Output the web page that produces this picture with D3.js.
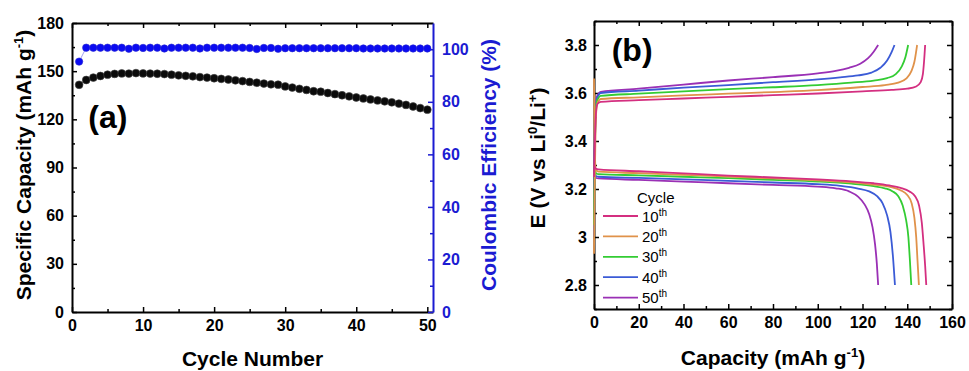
<!DOCTYPE html>
<html>
<head>
<meta charset="utf-8">
<script src="https://cdn.jsdelivr.net/npm/d3@7"></script>
<style>
  body { margin: 0; background: #fff; }
  svg { font-family: Arial, "Liberation Sans", sans-serif; }
  .tick text { font-size: 16px; font-weight: bold; }
</style>
</head>
<body>
<div id="fig"></div>
<script>
// panel (a): cycling data
var cycles = d3.range(1, 51);
var capacity = [141.5, 144.5, 146, 147, 147.8, 148.3, 148.6, 148.5, 148.8, 148.6,
                148.5, 148.4, 148.2, 147.8, 147.4, 147.1, 146.8, 146.3, 146, 145.6,
                145.2, 144.8, 144.3, 143.8, 143.3, 142.8, 142.3, 141.8, 141.6, 140.5,
                139.8, 139, 138.3, 137.5, 137.2, 136.4, 135.7, 135, 134.3, 133.6,
                133, 132.4, 131.8, 131.2, 130.6, 129.8, 129, 128, 127, 126];
var efficiency = [95.3, 100.6, 100.6, 100.6, 100.6, 100.6, 100.6, 100.2, 100.6, 100.5,
                  100.6, 100.6, 100.3, 100.6, 100.6, 100.6, 100.6, 100.3, 100.6, 100.6,
                  100.6, 100.6, 100.6, 100.6, 100.5, 100.1, 100.5, 100.5, 100.2, 100.4,
                  100.4, 100.4, 100.4, 100.4, 100.4, 100.4, 100.4, 100.4, 100.4, 100.4,
                  100.3, 100.3, 100.3, 100.3, 100.3, 100.3, 100.3, 100.3, 100.3, 100.3];

// panel (b): charge / discharge profiles [capacity, voltage]
var charge10 = [[0,3.25],[0.4,3.40],[0.9,3.52],[1.6,3.555],[3,3.563],[20,3.570],[40,3.577],[60,3.584],[80,3.591],[100,3.598],[120,3.607],[133,3.613],[140,3.618],[144,3.627],[146,3.645],[147,3.68],[147.5,3.73],[148,3.8]];
var charge20 = [[0,2.93],[0.3,3.2],[0.7,3.45],[1.3,3.55],[3,3.575],[20,3.582],[40,3.59],[60,3.597],[80,3.604],[100,3.612],[120,3.625],[130,3.633],[136,3.643],[139.5,3.66],[141.8,3.69],[143.2,3.73],[144.4,3.8]];
var charge30 = [[0,3.05],[0.3,3.3],[0.7,3.5],[1.3,3.565],[3,3.588],[20,3.597],[40,3.607],[60,3.616],[80,3.624],[100,3.633],[115,3.643],[125,3.652],[131,3.662],[135,3.68],[137.5,3.71],[139.2,3.75],[140.4,3.8]];
var charge40 = [[0,3.0],[0.3,3.3],[0.7,3.5],[1.3,3.575],[3,3.6],[20,3.61],[40,3.622],[60,3.633],[80,3.645],[100,3.657],[110,3.665],[118,3.673],[124,3.685],[128,3.705],[131,3.735],[133,3.77],[134.3,3.8]];
var charge50 = [[0,3.2],[0.3,3.4],[0.7,3.53],[1.3,3.585],[3,3.605],[20,3.618],[40,3.635],[60,3.652],[80,3.666],[100,3.682],[108,3.692],[114,3.705],[119,3.722],[122.5,3.745],[125,3.772],[127,3.8]];

var discharge10 = [[0,3.30],[0.8,3.285],[2,3.282],[20,3.274],[40,3.265],[60,3.256],[80,3.248],[100,3.240],[115,3.232],[125,3.224],[132,3.215],[137,3.205],[141,3.19],[143.5,3.17],[145.3,3.13],[146.5,3.06],[147.3,2.97],[148,2.88],[148.5,2.8]];
var discharge20 = [[0,3.66],[0.3,3.4],[0.8,3.28],[2,3.272],[20,3.266],[40,3.259],[60,3.252],[80,3.244],[100,3.236],[115,3.228],[125,3.218],[132,3.21],[137,3.195],[140,3.175],[142,3.14],[143.2,3.08],[144,3.0],[144.6,2.9],[145.2,2.8]];
var discharge30 = [[0,3.30],[0.4,3.28],[1,3.265],[2,3.262],[20,3.257],[40,3.251],[60,3.245],[80,3.238],[100,3.231],[115,3.222],[125,3.212],[130,3.203],[133.5,3.19],[136,3.17],[138,3.13],[139.5,3.07],[140.5,3.0],[141.2,2.9],[141.8,2.8]];
var discharge40 = [[0,3.30],[0.4,3.27],[1,3.253],[2,3.251],[20,3.246],[40,3.24],[60,3.234],[80,3.227],[100,3.22],[110,3.213],[118,3.202],[123,3.19],[126.5,3.17],[129,3.14],[131,3.09],[132.5,3.02],[133.6,2.92],[134.5,2.8]];
var discharge50 = [[0,3.30],[0.4,3.26],[1,3.246],[2,3.244],[20,3.238],[40,3.231],[60,3.224],[80,3.217],[100,3.21],[108,3.203],[114,3.19],[118,3.168],[121,3.135],[123,3.095],[124.5,3.04],[125.6,2.97],[126.4,2.89],[127,2.8]];

var cycleLabels = ["10", "20", "30", "40", "50"];
var cycleColours = ["#d42f80", "#e0924a", "#33cc33", "#3b5bd6", "#9a30b5"];
var chargeSets = [charge10, charge20, charge30, charge40, charge50];
var dischargeSets = [discharge10, discharge20, discharge30, discharge40, discharge50];

var blue = "#1b1bd2";

var svg = d3.select("#fig")
    .append("svg")
    .attr("width", 969)
    .attr("height", 371);

// inward ticks: major + minor, labels optional
function drawAxis(axisFn, scale, transform, majors, minors, fmt, colour, pad) {
    var g = svg.append("g").attr("transform", transform);
    g.call(axisFn(scale).tickValues(minors).tickSize(-3).tickFormat(""));
    g.select(".domain").remove();
    var m = svg.append("g").attr("transform", transform)
        .call(axisFn(scale).tickValues(majors).tickSize(-5).tickSizeOuter(0)
              .tickPadding(pad || 8).tickFormat(fmt || ""));
    m.select(".domain").attr("stroke", colour).attr("stroke-width", 2);
    [g, m].forEach(s => {
        s.selectAll("line").attr("stroke", colour).attr("stroke-width", 1.5);
        s.selectAll("text").attr("fill", colour);
    });
}

// ---------------- panel (a) ----------------
var xA = d3.scaleLinear().domain([0, 50.8]).range([72, 433]);
var yA = d3.scaleLinear().domain([0, 180]).range([312, 23]);
var yCE = d3.scaleLinear().domain([0, 110]).range([312, 23]);

drawAxis(d3.axisBottom, xA, "translate(0,312)", d3.range(0, 51, 10), d3.range(5, 51, 10), d3.format("d"), "#000", 8);
drawAxis(d3.axisTop, xA, "translate(0,23)", d3.range(0, 51, 10), d3.range(5, 51, 10), null, "#000");
drawAxis(d3.axisLeft, yA, "translate(72,0)", d3.range(0, 181, 30), d3.range(15, 180, 30), d3.format("d"), "#000", 8);
drawAxis(d3.axisRight, yCE, "translate(433,0)", d3.range(0, 101, 20), d3.range(10, 110, 20), d3.format("d"), blue, 9);

var capData = cycles.map((c, i) => [c, capacity[i]]);
var ceData = cycles.map((c, i) => [c, efficiency[i]]);

svg.append("path")
    .datum(ceData)
    .attr("fill", "none")
    .attr("stroke", "#8a8af0")
    .attr("stroke-width", 0.8)
    .attr("d", d3.line().x(d => xA(d[0])).y(d => yCE(d[1])));

svg.append("path")
    .datum(capData)
    .attr("fill", "none")
    .attr("stroke", "#777")
    .attr("stroke-width", 0.8)
    .attr("d", d3.line().x(d => xA(d[0])).y(d => yA(d[1])));

svg.append("g").selectAll("circle")
    .data(capData)
    .enter().append("circle")
    .attr("cx", d => xA(d[0]))
    .attr("cy", d => yA(d[1]))
    .attr("r", 3.9)
    .style("fill", "#0b0b0b")
    .style("stroke", "#444")
    .style("stroke-width", 0.6);

svg.append("g").selectAll("circle")
    .data(ceData)
    .enter().append("circle")
    .attr("cx", d => xA(d[0]))
    .attr("cy", d => yCE(d[1]))
    .attr("r", 3.7)
    .style("fill", "#0a0af2")
    .style("stroke", "#2a2ad0")
    .style("stroke-width", 0.6);

svg.append("text")
    .attr("x", xA(2.3))
    .attr("y", yA(114.6))
    .attr("font-size", 32)
    .attr("font-weight", "bold")
    .text("(a)");

svg.append("text")
    .attr("text-anchor", "middle")
    .attr("x", 252.5)
    .attr("y", 366)
    .attr("font-size", 21)
    .attr("font-weight", "bold")
    .text("Cycle Number");

var tA = svg.append("text")
    .attr("text-anchor", "middle")
    .attr("transform", "translate(31,165) rotate(-90)")
    .attr("font-size", 21)
    .attr("font-weight", "bold");
tA.append("tspan").text("Specific Capacity (mAh g");
tA.append("tspan").attr("dy", -8).attr("font-size", 13).text("-1");
tA.append("tspan").attr("dy", 8).text(")");

svg.append("text")
    .attr("text-anchor", "middle")
    .attr("transform", "translate(496,165) rotate(-90)")
    .attr("font-size", 21)
    .attr("font-weight", "bold")
    .attr("fill", blue)
    .text("Coulombic Efficiency (%)");

// ---------------- panel (b) ----------------
var xB = d3.scaleLinear().domain([0, 160]).range([594, 952]);
var yB = d3.scaleLinear().domain([2.7, 3.9]).range([309, 21]);

var vFmt = d => (Math.abs(d - 3) < 1e-6 ? "3" : d3.format(".1f")(d));
drawAxis(d3.axisBottom, xB, "translate(0,309)", d3.range(0, 161, 20), d3.range(10, 160, 20), d3.format("d"), "#000", 8);
drawAxis(d3.axisTop, xB, "translate(0,21)", d3.range(0, 161, 20), d3.range(10, 160, 20), null, "#000");
drawAxis(d3.axisLeft, yB, "translate(594,0)", [2.8, 3.0, 3.2, 3.4, 3.6, 3.8], [2.7, 2.9, 3.1, 3.3, 3.5, 3.7, 3.9], vFmt, "#000", 7);
drawAxis(d3.axisRight, yB, "translate(952,0)", [2.8, 3.0, 3.2, 3.4, 3.6, 3.8], [2.7, 2.9, 3.1, 3.3, 3.5, 3.7, 3.9], null, "#000");

var lineB = d3.line()
    .x(d => xB(d[0]))
    .y(d => yB(d[1]))
    .curve(d3.curveMonotoneX);

var curves = svg.append("g");
for (var i = 4; i >= 0; i--) {
    curves.append("path")
        .datum(dischargeSets[i])
        .attr("fill", "none")
        .attr("stroke", cycleColours[i])
        .attr("stroke-width", 1.8)
        .attr("d", lineB);
    curves.append("path")
        .datum(chargeSets[i])
        .attr("fill", "none")
        .attr("stroke", cycleColours[i])
        .attr("stroke-width", 1.8)
        .attr("d", lineB);
}

svg.append("text")
    .attr("x", xB(7.9))
    .attr("y", yB(3.733))
    .attr("font-size", 32)
    .attr("font-weight", "bold")
    .text("(b)");

// legend
var legend = svg.append("g").attr("transform", "translate(603,203)");
legend.append("text")
    .attr("x", 34)
    .attr("y", 0)
    .attr("font-size", 15)
    .text("Cycle");
cycleLabels.forEach((c, i) => {
    var row = legend.append("g").attr("transform", "translate(0," + (13 + i * 20.4) + ")");
    row.append("line")
        .attr("x1", 0).attr("x2", 35)
        .attr("stroke", cycleColours[i])
        .attr("stroke-width", 1.8);
    var t = row.append("text")
        .attr("x", 39)
        .attr("y", 5.5)
        .attr("font-size", 15);
    t.append("tspan").text(c);
    t.append("tspan").attr("dy", -6).attr("font-size", 10).text("th");
});

svg.append("text")
    .attr("text-anchor", "middle")
    .attr("x", 773)
    .attr("y", 365)
    .attr("font-size", 21)
    .attr("font-weight", "bold")
    .call(t => {
        t.append("tspan").text("Capacity (mAh g");
        t.append("tspan").attr("dy", -8).attr("font-size", 13).text("-1");
        t.append("tspan").attr("dy", 8).text(")");
    });

var tB = svg.append("text")
    .attr("text-anchor", "middle")
    .attr("transform", "translate(545,158) rotate(-90)")
    .attr("font-size", 21)
    .attr("font-weight", "bold");
tB.append("tspan").text("E (V vs Li");
tB.append("tspan").attr("dy", -8).attr("font-size", 13).text("0");
tB.append("tspan").attr("dy", 8).text("/Li");
tB.append("tspan").attr("dy", -8).attr("font-size", 13).text("+");
tB.append("tspan").attr("dy", 8).text(")");
</script>
</body>
</html>
